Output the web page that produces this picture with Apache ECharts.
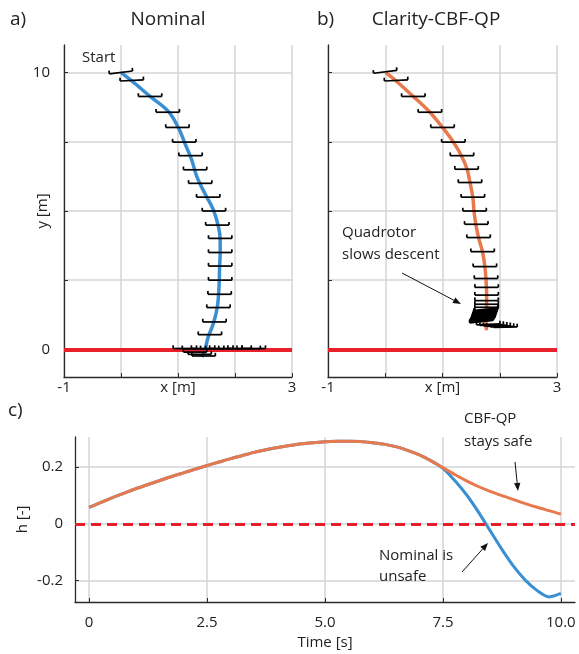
<!DOCTYPE html>
<html>
<head>
<meta charset="utf-8">
<script src="https://cdn.jsdelivr.net/npm/echarts@6/dist/echarts.min.js"></script>
<style>
html,body{margin:0;padding:0;background:#fff;}
#chart{width:579px;height:654px;}
</style>
</head>
<body>
<div id="chart"></div>
<script>
// ---------------- DATA ----------------
// Panel a) Nominal trajectory (x [m], y [m])
var nomPathX = [0.00, 0.19, 0.51, 0.83, 1.01, 1.12, 1.24, 1.33, 1.47, 1.62, 1.71, 1.74, 1.74, 1.73, 1.72, 1.69, 1.62, 1.53, 1.47, 1.42];
var nomPathY = [10.0, 9.70, 9.14, 8.60, 8.00, 7.45, 6.85, 6.24, 5.64, 5.04, 4.43, 3.95, 3.50, 2.98, 2.26, 1.53, 0.93, 0.45, -0.04, -0.28];
// Quadrotor body markers along nominal trajectory
var nomBarX = [0.00, 0.19, 0.51, 0.82, 0.99, 1.11, 1.22, 1.30, 1.39, 1.53, 1.63, 1.69, 1.74, 1.74, 1.74, 1.74, 1.73, 1.71, 1.64, 1.56,
               1.12, 1.28, 1.44, 1.60, 1.76, 1.92, 2.08, 2.24, 2.33, 1.30, 1.38, 1.45];
var nomBarY = [10.01, 9.72, 9.14, 8.57, 8.02, 7.49, 7.00, 6.49, 6.00, 5.50, 5.00, 4.49, 4.01, 3.50, 3.01, 2.50, 1.99, 1.51, 0.99, 0.53,
               0.03, 0.02, 0.03, 0.02, 0.03, 0.02, 0.03, 0.02, 0.03, -0.10, -0.18, -0.24];
var nomBarTilt = [0.12, 0.05, 0, 0, 0, 0, 0, 0, 0, 0, 0, 0, 0, 0, 0, 0, 0, 0, 0, 0,
                  0, 0, 0, 0, 0, 0, 0, 0, 0, 0, 0, 0];
// Panel b) Clarity-CBF-QP trajectory
var cbfPathX = [0.01, 0.19, 0.49, 0.78, 1.00, 1.19, 1.33, 1.43, 1.48, 1.53, 1.55, 1.58, 1.63, 1.70, 1.74, 1.76, 1.77, 1.77, 1.76, 1.76, 1.77];
var cbfPathY = [10.0, 9.70, 9.14, 8.57, 8.02, 7.49, 7.00, 6.51, 6.03, 5.50, 5.00, 4.54, 4.04, 3.51, 2.99, 2.51, 2.00, 1.50, 1.10, 0.85, 0.69];
var cbfBarX = [0.00, 0.19, 0.49, 0.78, 1.00, 1.19, 1.34, 1.42, 1.48, 1.53, 1.56, 1.59, 1.63, 1.70, 1.74, 1.76, 1.77, 1.77, 1.77, 1.77, 1.77,
               1.77, 1.765, 1.76, 1.755, 1.75, 1.745, 1.74, 1.735, 1.73, 1.725, 1.72, 1.715, 1.71, 1.70, 1.69, 1.68,
               1.80, 1.86, 1.92, 1.98, 2.04, 2.10];
var cbfBarY = [10.03, 9.72, 9.14, 8.57, 8.02, 7.49, 7.00, 6.51, 6.03, 5.50, 5.00, 4.52, 4.04, 3.53, 2.99, 2.56, 2.24, 1.96, 1.76, 1.63, 1.52,
               1.45, 1.42, 1.39, 1.36, 1.33, 1.30, 1.27, 1.24, 1.21, 1.18, 1.15, 1.12, 1.09, 1.06, 1.03, 1.00,
               0.90, 0.88, 0.86, 0.84, 0.82, 0.80];
var cbfBarTilt = [0.12, 0.05, 0, 0, 0, 0, 0, 0, 0, 0, 0, 0, 0, 0, 0, 0, 0, 0, 0, 0, 0,
                  0.10, 0.10, 0.10, 0.10, 0.10, 0.10, 0.10, 0.10, 0.10, 0.10, 0.10, 0.10, 0.10, 0.10, 0.10, 0.10,
                  0.04, 0.04, 0.03, 0.03, 0.02, 0.02];
// Panel c) safety function h over time
var timeS = [0, 0.25, 0.5, 0.75, 1, 1.25, 1.5, 1.75, 2, 2.25, 2.5, 2.75, 3, 3.25, 3.5, 3.75, 4, 4.25, 4.5, 4.75,
             5, 5.25, 5.5, 5.75, 6, 6.25, 6.5, 6.75, 7, 7.25, 7.5, 7.75, 8, 8.25, 8.5, 8.75, 9, 9.25, 9.5, 9.75, 10];
var hCbf = [0.058, 0.075, 0.092, 0.108, 0.124, 0.138, 0.152, 0.166, 0.179, 0.192, 0.205, 0.217, 0.229, 0.240, 0.251, 0.260, 0.268, 0.275, 0.281, 0.285,
            0.288, 0.290, 0.290, 0.289, 0.285, 0.280, 0.271, 0.258, 0.242, 0.221, 0.197, 0.173, 0.151, 0.131, 0.114, 0.099, 0.085, 0.071, 0.058, 0.046, 0.034];
var hNom = [0.058, 0.075, 0.092, 0.108, 0.124, 0.138, 0.152, 0.166, 0.179, 0.192, 0.205, 0.217, 0.229, 0.240, 0.251, 0.260, 0.268, 0.275, 0.281, 0.285,
            0.288, 0.290, 0.290, 0.289, 0.285, 0.280, 0.271, 0.258, 0.242, 0.221, 0.195, 0.152, 0.102, 0.042, -0.024, -0.090, -0.150, -0.199, -0.235, -0.257, -0.245];
// Tick values
var trajXTicks = [-1, 0, 1, 2, 3];
var trajXLabels = [-1, 3];
var trajYTicks = [0, 2.5, 5, 7.5, 10];
var trajYLabels = [0, 10];
var timeTicks = [0, 2.5, 5, 7.5, 10];
var hTicks = [-0.2, 0, 0.2];

// ---------------- STYLE ----------------
var BLUE = '#3a8fd2';
var ORANGE = '#e8794c';
var RED = '#e8202a';
var GRID = '#d3d3da';
var AXIS = '#2a2a2a';
var TXT = '#222';
var FONT = '"Open Sans", "Noto Sans", sans-serif';
var BAR_W = 0.41; // quadrotor width in metres

function zip(a, b, c) {
  return a.map(function (v, i) { return c ? [v, b[i], c[i]] : [v, b[i]]; });
}

function barRender(params, api) {
  var x = api.value(0), y = api.value(1), a = api.value(2);
  var c = api.coord([x, y]);
  var half = api.size([BAR_W, 0])[0] / 2;
  var cs = Math.cos(a), sn = Math.sin(a);
  var p1 = [c[0] - half * cs, c[1] + half * sn];
  var p2 = [c[0] + half * cs, c[1] - half * sn];
  var h = 3.2;
  var up = [-sn * h, -cs * h];
  var st = { stroke: '#000', lineWidth: 1.7, fill: null };
  return {
    type: 'group',
    children: [
      { type: 'line', shape: { x1: p1[0], y1: p1[1], x2: p2[0], y2: p2[1] }, style: st },
      { type: 'line', shape: { x1: p1[0], y1: p1[1], x2: p1[0] + up[0], y2: p1[1] + up[1] }, style: st },
      { type: 'line', shape: { x1: p2[0], y1: p2[1], x2: p2[0] + up[0], y2: p2[1] + up[1] }, style: st }
    ]
  };
}

function trajX(idx) {
  return {
    gridIndex: idx, type: 'value', min: -1, max: 3,
    axisLine: { show: true, onZero: false, lineStyle: { color: AXIS, width: 1.3 } },
    axisTick: { show: true, inside: true, length: 4, customValues: trajXTicks, lineStyle: { color: AXIS } },
    axisLabel: { customValues: trajXLabels, color: TXT, fontSize: 15, fontFamily: FONT, margin: 3 },
    splitLine: { show: true, lineStyle: { color: GRID, width: 1.5 } },
    name: 'x [m]', nameLocation: 'middle', nameGap: 3, nameMoveOverlap: false,
    nameTextStyle: { color: TXT, fontSize: 15, fontFamily: FONT, verticalAlign: 'top' }
  };
}
function trajY(idx, withName) {
  return {
    gridIndex: idx, type: 'value', min: -1, max: 11,
    axisLine: { show: true, onZero: false, lineStyle: { color: AXIS, width: 1.3 } },
    axisTick: { show: true, inside: true, length: 4, customValues: trajYTicks, lineStyle: { color: AXIS } },
    axisLabel: { show: withName, customValues: trajYLabels, color: TXT, fontSize: 15, fontFamily: FONT, margin: 14 },
    splitLine: { show: true, lineStyle: { color: GRID, width: 1.5 } },
    name: withName ? 'y [m]' : '', nameLocation: 'middle', nameGap: 14, nameRotate: 90, nameMoveOverlap: false,
    nameTextStyle: { color: TXT, fontSize: 15, fontFamily: FONT }
  };
}

function arrow(x1, y1, x2, y2) {
  var ang = Math.atan2(y2 - y1, x2 - x1);
  var L = 8, W = 3.2;
  var bx = x2 - L * Math.cos(ang), by = y2 - L * Math.sin(ang);
  var nx = -Math.sin(ang), ny = Math.cos(ang);
  return [
    { type: 'line', shape: { x1: x1, y1: y1, x2: bx, y2: by }, style: { stroke: '#111', lineWidth: 1 }, z: 100 },
    { type: 'polygon', shape: { points: [[x2, y2], [bx + nx * W, by + ny * W], [bx - nx * W, by - ny * W]] }, style: { fill: '#111' }, z: 100 }
  ];
}
function txt(x, y, s, size, align) {
  return { type: 'text', x: x, y: y, z: 100,
    style: { text: s, font: size + 'px ' + FONT, fill: TXT, textAlign: align || 'left', textVerticalAlign: 'middle' } };
}

var graphics = [
  txt(10, 20, 'a)', 19), txt(168, 20, 'Nominal', 19, 'center'),
  txt(317, 20, 'b)', 19), txt(436, 20, 'Clarity-CBF-QP', 19, 'center'),
  txt(8, 411, 'c)', 19),
  txt(82, 58, 'Start', 15),
  txt(342, 233, 'Quadrotor', 15), txt(342, 255, 'slows descent', 15),
  txt(464, 419, 'CBF-QP', 15), txt(464, 442, 'stays safe', 15),
  txt(379, 556, 'Nominal is', 15), txt(379, 577, 'unsafe', 15)
].concat(arrow(402, 273, 461, 304), arrow(515, 462, 518, 491), arrow(462, 572, 488, 543));

var option = {
  animation: false,
  backgroundColor: '#fff',
  textStyle: { fontFamily: FONT },
  grid: [
    { left: 64, top: 45, width: 228, height: 332 },
    { left: 328, top: 45, width: 229, height: 332 },
    { left: 75, top: 437, width: 500, height: 165 }
  ],
  xAxis: [
    trajX(0), trajX(1),
    {
      gridIndex: 2, type: 'value', min: -0.3, max: 10.3,
      axisLine: { show: true, onZero: false, lineStyle: { color: AXIS, width: 1.3 } },
      axisTick: { show: true, inside: true, length: 4, customValues: timeTicks, lineStyle: { color: AXIS } },
      axisLabel: { customValues: timeTicks, color: TXT, fontSize: 15, fontFamily: FONT, margin: 13,
        formatter: function (v) { return v === 0 ? '0' : v.toFixed(1); } },
      splitLine: { show: true, lineStyle: { color: GRID, width: 1.5 } },
      name: 'Time [s]', nameLocation: 'middle', nameGap: 33, nameMoveOverlap: false,
      nameTextStyle: { color: TXT, fontSize: 15, fontFamily: FONT, verticalAlign: 'top' }
    }
  ],
  yAxis: [
    trajY(0, true), trajY(1, false),
    {
      gridIndex: 2, type: 'value', min: -0.275, max: 0.305,
      axisLine: { show: true, onZero: false, lineStyle: { color: AXIS, width: 1.3 } },
      axisTick: { show: true, inside: true, length: 4, customValues: hTicks, lineStyle: { color: AXIS } },
      axisLabel: { customValues: hTicks, color: TXT, fontSize: 15, fontFamily: FONT, margin: 12,
        formatter: function (v) { return Math.abs(v) < 1e-9 ? '0' : v.toFixed(1); } },
      splitLine: { show: true, lineStyle: { color: GRID, width: 1.5 } },
      name: 'h [-]', nameLocation: 'middle', nameGap: 45, nameRotate: 90, nameMoveOverlap: false,
      nameTextStyle: { color: TXT, fontSize: 15, fontFamily: FONT }
    }
  ],
  series: [
    // Panel a
    { type: 'line', xAxisIndex: 0, yAxisIndex: 0, data: zip(nomPathX, nomPathY), smooth: 0.35, symbol: 'none',
      lineStyle: { color: BLUE, width: 3.5 }, z: 3,
      markLine: { silent: true, symbol: 'none', label: { show: false }, lineStyle: { color: RED, width: 4, type: 'solid' },
        data: [{ yAxis: 0 }] } },
    { type: 'custom', xAxisIndex: 0, yAxisIndex: 0, renderItem: barRender, data: zip(nomBarX, nomBarY, nomBarTilt), z: 5 },
    // Panel b
    { type: 'line', xAxisIndex: 1, yAxisIndex: 1, data: zip(cbfPathX, cbfPathY), smooth: 0.35, symbol: 'none',
      lineStyle: { color: ORANGE, width: 3.5 }, z: 3,
      markLine: { silent: true, symbol: 'none', label: { show: false }, lineStyle: { color: RED, width: 4, type: 'solid' },
        data: [{ yAxis: 0 }] } },
    { type: 'custom', xAxisIndex: 1, yAxisIndex: 1, renderItem: barRender, data: zip(cbfBarX, cbfBarY, cbfBarTilt), z: 5 },
    // Panel c
    { type: 'line', xAxisIndex: 2, yAxisIndex: 2, data: zip(timeS, hNom), smooth: 0.3, symbol: 'none',
      lineStyle: { color: BLUE, width: 3 }, z: 3 },
    { type: 'line', xAxisIndex: 2, yAxisIndex: 2, data: zip(timeS, hCbf), smooth: 0.3, symbol: 'none',
      lineStyle: { color: ORANGE, width: 3 }, z: 4,
      markLine: { silent: true, symbol: 'none', label: { show: false }, lineStyle: { color: RED, width: 3, type: [10, 6] },
        data: [{ yAxis: 0 }] } }
  ],
  graphic: graphics
};

var chart = echarts.init(document.getElementById('chart'), null, { renderer: 'canvas' });
chart.setOption(option);
</script>
</body>
</html>
